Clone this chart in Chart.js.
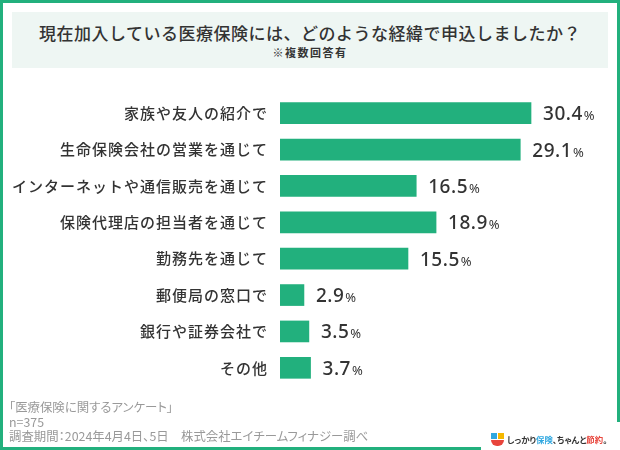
<!DOCTYPE html>
<html><head><meta charset="utf-8">
<script src="https://cdn.jsdelivr.net/npm/chart.js@4/dist/chart.umd.min.js"></script>
<style>
body{margin:0;background:#fff}
#wrap{position:relative;width:620px;height:450px;overflow:hidden;font-family:"Noto Sans CJK JP","Noto Sans",sans-serif;color:#333}
#frame{position:absolute;left:0;top:0;width:620px;height:450px;box-sizing:border-box;border:3px solid #22b07d}
#logo{position:absolute;left:481px;top:422px;width:139px;height:28px;background:#fff}
#titlebox{position:absolute;left:12px;top:12px;width:596px;height:56px;background:#eef6f3;text-align:center}
#title{position:absolute;left:0;width:100%;top:10px;font-size:17px;font-weight:500;letter-spacing:0.5px;line-height:22px}
#sub{position:absolute;left:0;width:100%;top:33px;font-size:11px;font-weight:700;letter-spacing:1.5px;line-height:14px}
#foot{position:absolute;left:9px;top:400px;font-size:12.4px;color:#999;line-height:14.5px;font-weight:400;font-feature-settings:"palt";white-space:nowrap}
canvas{position:absolute;left:0;top:0}
#logotxt{position:absolute;left:507px;top:433px;font-size:8.4px;font-weight:700;color:#333;white-space:nowrap;line-height:13px;font-feature-settings:"palt"}
.ib{position:absolute}
</style></head>
<body>
<div id="wrap">
<div id="frame"></div>
<div id="logo"></div>
<div id="titlebox"><div id="title">現在加入している医療保険には、どのような経緯で申込しましたか？</div><div id="sub">※複数回答有</div></div>
<canvas id="c" width="620" height="450"></canvas>
<div id="foot">「医療保険に関するアンケート」<br>n=375<br>調査期間：2024年4月4日、5日　株式会社エイチームフィナジー調べ</div>
<div class="ib" style="left:491px;top:433px;width:6px;height:6px;background:#2ea7e0"></div>
<div class="ib" style="left:498px;top:433px;width:6px;height:6px;background:#f5b800"></div>
<div class="ib" style="left:491px;top:440px;width:13px;height:6px;background:#e8453c;border-radius:0 0 7px 7px"></div>
<div id="logotxt">しっかり<span style="color:#2ea7e0">保険</span>、ちゃんと<span style="color:#e8453c">節約</span>。</div>
</div>
<script>
const categories = ["家族や友人の紹介で","生命保険会社の営業を通じて","インターネットや通信販売を通じて","保険代理店の担当者を通じて","勤務先を通じて","郵便局の窓口で","銀行や証券会社で","その他"];
const values = [30.4, 29.1, 16.5, 18.9, 15.5, 2.9, 3.5, 3.7];
const barColor = "#22b07d";

const spacingPlugin = {
  id: 'spacing',
  beforeDraw(chart){ chart.ctx.letterSpacing = '1px'; },
  beforeDatasetsDraw(chart){ chart.ctx.letterSpacing = '0px'; }
};
const valuePlugin = {
  id: 'vals',
  afterDatasetsDraw(chart){
    const ctx = chart.ctx;
    const meta = chart.getDatasetMeta(0);
    ctx.save();
    ctx.letterSpacing = '0.5px';
    ctx.fillStyle = '#333';
    ctx.textBaseline = 'alphabetic';
    meta.data.forEach((bar, i) => {
      const num = values[i].toFixed(1);
      let x = bar.x + 12;
      const y = bar.y + 7;
      ctx.font = '500 19px "Noto Sans", sans-serif';
      ctx.fillText(num, x, y);
      x += ctx.measureText(num).width + 1;
      ctx.font = '400 13px "Noto Sans", sans-serif';
      ctx.fillText('%', x, y);
    });
    ctx.restore();
  }
};

new Chart(document.getElementById('c'), {
  type: 'bar',
  data: { labels: categories, datasets: [{ data: values, backgroundColor: barColor, barThickness: 21, borderWidth: 0 }] },
  options: {
    indexAxis: 'y',
    responsive: false,
    animation: false,
    events: [],
    layout: { padding: { top: 95, bottom: 64, right: 51, left: 0 } },
    plugins: { legend: { display: false }, tooltip: { enabled: false } },
    scales: {
      x: { display: false, min: 0, max: 35 },
      y: {
        grid: { display: false }, border: { display: false },
        ticks: { padding: 4, color: '#333', font: { family: '"Noto Sans CJK JP"', size: 15, weight: '500' } },
        afterFit(scale){ scale.width = 280; }
      }
    }
  },
  plugins: [spacingPlugin, valuePlugin]
});
</script>
</body></html>
